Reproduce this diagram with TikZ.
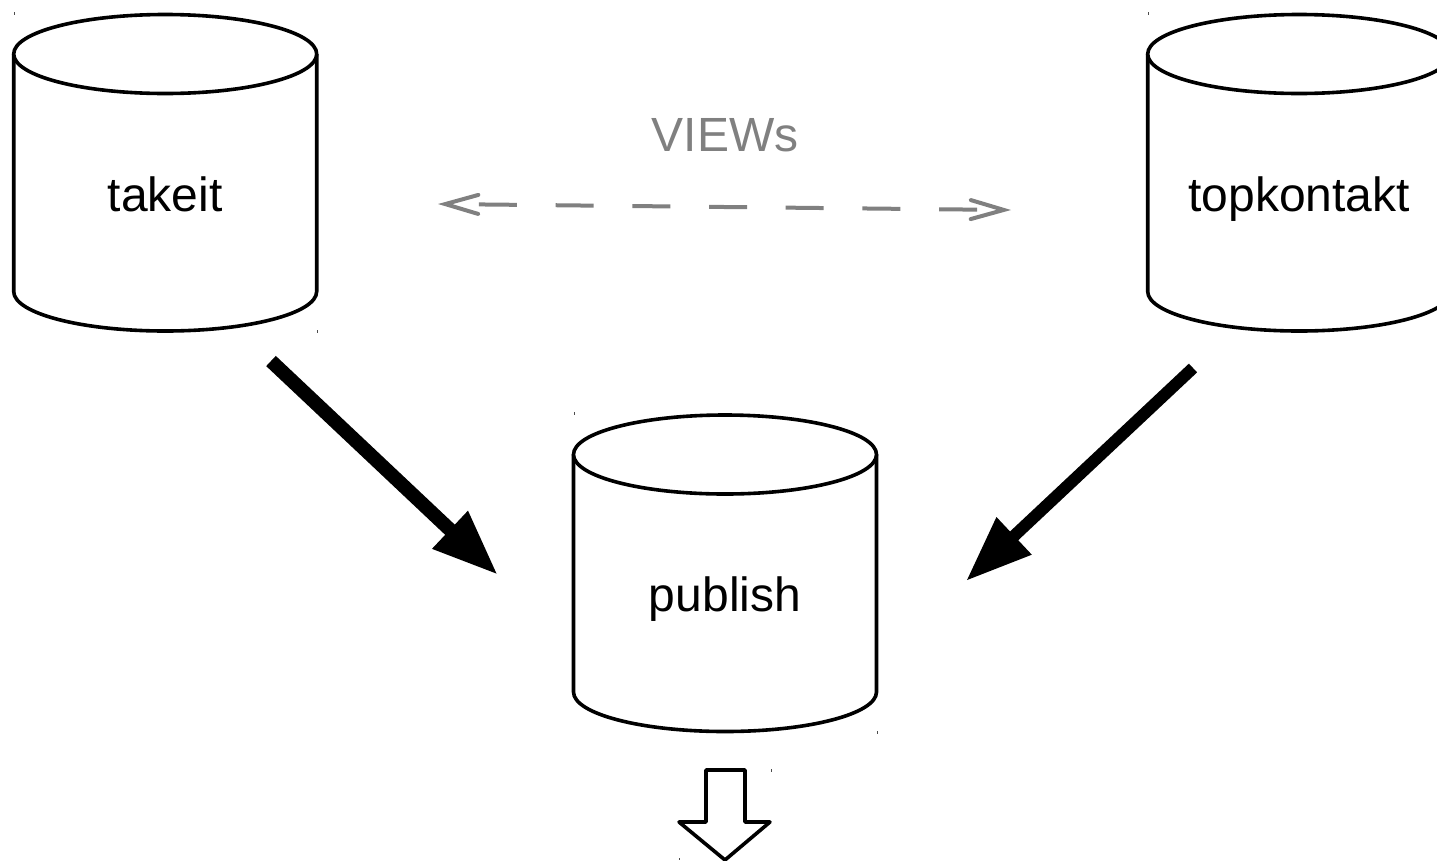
\documentclass[tikz,border=0pt]{standalone}
\usepackage{fontspec}
\setmainfont{Liberation Sans}
\usetikzlibrary{arrows.meta}
\tikzset{
  cyl/.style={draw=black, fill=white, line width=3.6pt, line join=round},
  dblabel/.style={anchor=base, font=\fontsize{48}{50}\selectfont},
  flow/.style={line width=#1, -{Triangle[length=66pt,width=48pt]}},
  viewlink/.style={draw=viewgray, line width=4pt, dash pattern=on 38pt off 38.7pt, dash phase=45pt,
    {Straight Barb[length=33pt,width=19pt,line cap=round]}-{Straight Barb[length=33pt,width=19pt,line cap=round]}},
  outarrow/.style={draw=black, line width=3.6pt, line join=round, fill=white},
  speck/.style={fill=black!70}
}
\definecolor{viewgray}{HTML}{808080}
\newcommand{\dbcyl}[4]{
  \begin{scope}[shift={(#1,#2)}]
    \filldraw[cyl] (0,39.5) -- (0,277) arc[start angle=180, end angle=0, x radius=151.5, y radius=39.5] -- (303,39.5);
    \filldraw[cyl] (151.5,39.5) ellipse[x radius=151.5, y radius=39.5];
    \node[dblabel] (#3) at (151.5,196.5) {#4};
  \end{scope}
}
\begin{document}
\begin{tikzpicture}[x=1pt, y=-1pt]
      \useasboundingbox (0,0) rectangle (1437,860);
      \dbcyl{13.7}{14.5}{takeit}{takeit}
      \dbcyl{1147.7}{14.5}{topkontakt}{topkontakt}
      \dbcyl{573.5}{415}{publish}{publish}
      \node[dblabel, text=viewgray] (views) at (725,151) {VIEWs};
      \coordinate (linkL)  at (438,204);
      \coordinate (linkR)  at (1011,210);
      \coordinate (leftA)  at (271,361);
      \coordinate (leftB)  at (498,575);
      \coordinate (rightA) at (1193,368);
      \coordinate (rightB) at (966,581);
      \draw[viewlink] (linkL) -- (linkR);
      \draw[flow=14pt] (leftA) -- (leftB);
      \draw[flow=12pt] (rightA) -- (rightB);
      \draw[outarrow] (706,770) -- (745,770) -- (745,822) -- (770,822) -- (725,860) -- (679,822) -- (706,822) -- cycle;
      \fill[speck] (14,12) rectangle (15,15);
      \fill[speck] (316.5,330) rectangle (317.5,333);
      \fill[speck] (574,412) rectangle (575,415);
      \fill[speck] (876.5,731) rectangle (877.5,734);
      \fill[speck] (1148,12) rectangle (1149,15);
      \fill[speck] (770.5,769) rectangle (771.5,772);
      \fill[speck] (679,858) rectangle (680,860);
    \end{tikzpicture}
\end{document}
